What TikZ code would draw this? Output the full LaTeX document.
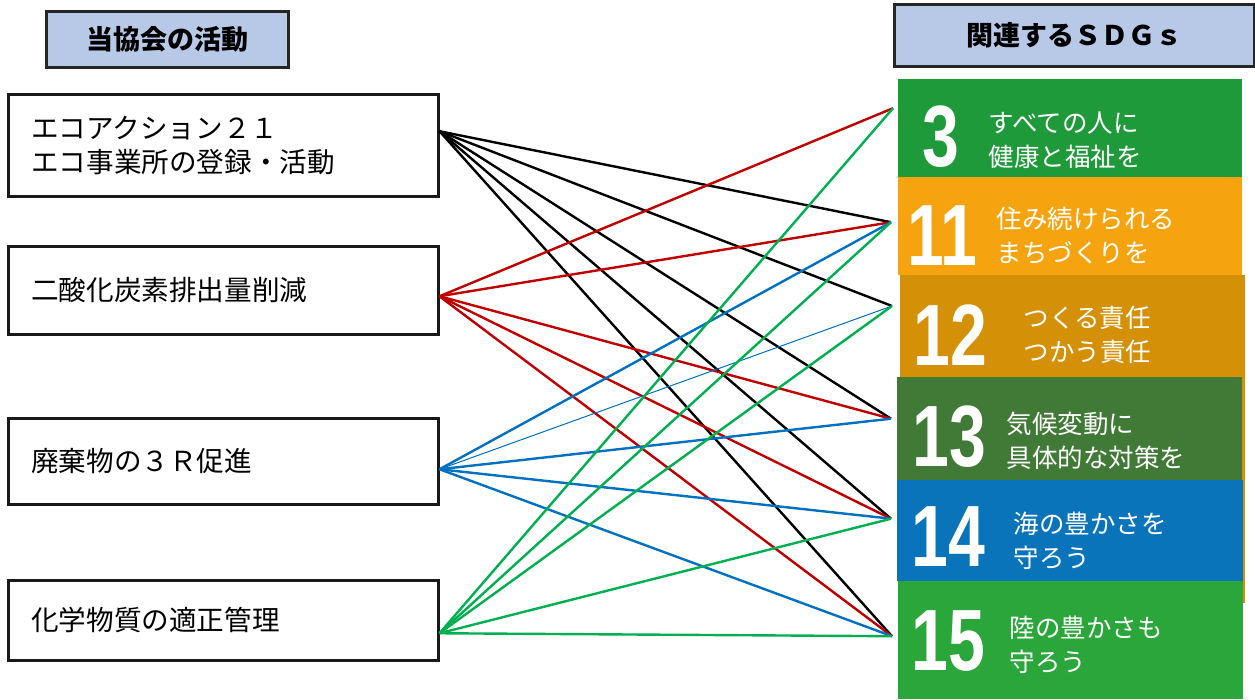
\documentclass[tikz,border=0pt]{standalone}
\usepackage{fontspec}
\setmainfont{Liberation Sans}
\newfontfamily\jp{Noto Sans CJK JP}
\usetikzlibrary{positioning}

\definecolor{hdrblue}{RGB}{184,201,232}
\definecolor{linkred}{RGB}{192,0,0}
\definecolor{linkblue}{RGB}{0,112,192}
\definecolor{linkgreen}{RGB}{0,176,80}
\definecolor{goalthree}{RGB}{31,154,58}
\definecolor{goaleleven}{RGB}{245,164,15}
\definecolor{goaltwelve}{RGB}{212,145,7}
\definecolor{goalthirteen}{RGB}{64,122,54}
\definecolor{goalfourteen}{RGB}{10,116,186}
\definecolor{goalfifteen}{RGB}{43,166,58}

\newcommand{\goalno}[1]{\scalebox{0.76}[1]{#1}}

\tikzset{
  header/.style={draw=black!85, line width=2.5pt, fill=hdrblue, anchor=north west,
    inner sep=0pt, font=\jp\bfseries\fontsize{27}{30}\selectfont},
  actbox/.style={draw=black!90, line width=2.5pt, anchor=north west, inner sep=0pt,
    minimum width=430pt, text width=384pt, align=left,
    font=\jp\fontsize{27.6}{34}\selectfont},
  tile/.style={anchor=north west, inner sep=0pt},
  goalnum/.style={text=white, font=\bfseries\fontsize{87}{87}\selectfont},
  goaltext/.style={text=white, anchor=west, align=left, font=\jp\fontsize{25.5}{34}\selectfont},
  link/.style={line width=2.4pt},
}

\begin{document}
\begin{tikzpicture}[x=1pt, y=-1pt]
  \useasboundingbox (0,0) rectangle (1255,699);

  % headers
  \node[header, minimum width=242pt, minimum height=56pt] (hdrL) at (45,10) {当協会の活動};
  \node[header, minimum width=360pt, minimum height=62pt] (hdrR) at (893,3) {関連するＳＤＧｓ};

  % activities
  \node[actbox, minimum height=102pt] (eco) at (7,93) {エコアクション２１\\エコ事業所の登録・活動};
  \node[actbox, minimum height=88pt] (co2) at (7,245) {二酸化炭素排出量削減};
  \node[actbox, minimum height=86pt] (waste) at (7,417) {廃棄物の３Ｒ促進};
  \node[actbox, minimum height=80pt] (chem) at (7,579) {化学物質の適正管理};

  % SDG tiles
  \node[tile, fill=goaltwelve, minimum width=345pt, minimum height=328pt] (sdg12) at (900,275) {};
  \node[tile, fill=goalthree, minimum width=344pt, minimum height=98pt] (sdg3) at (898,79) {};
  \node[tile, fill=goaleleven, minimum width=344pt, minimum height=98pt] (sdg11) at (898,177) {};
  \node[tile, fill=goalthirteen, minimum width=345pt, minimum height=103pt] (sdg13) at (897,377) {};
  \node[tile, fill=goalfourteen, minimum width=346pt, minimum height=101pt] (sdg14) at (897,480) {};
  \node[tile, fill=goalfifteen, minimum width=345pt, minimum height=118pt] (sdg15) at (898,581) {};

  \node[goalnum] at (941,137) {\goalno{3}};
  \node[goalnum] at (942,236) {\goalno{11}};
  \node[goalnum] at (950,335) {\goalno{12}};
  \node[goalnum] at (949,437) {\goalno{13}};
  \node[goalnum] at (948,537) {\goalno{14}};
  \node[goalnum] at (948,641) {\goalno{15}};

  \node[goaltext] at (985,140) {すべての人に\\健康と福祉を};
  \node[goaltext] at (993,236) {住み続けられる\\まちづくりを};
  \node[goaltext] at (1020,335) {つくる責任\\つかう責任};
  \node[goaltext] at (1003,441) {気候変動に\\具体的な対策を};
  \node[goaltext] at (1010,541) {海の豊かさを\\守ろう};
  \node[goaltext] at (1006,645) {陸の豊かさも\\守ろう};

  % link ends
  \coordinate (ecoOut) at ([yshift=14pt]eco.east);
  \coordinate (co2Out) at ([yshift=-6pt]co2.east);
  \coordinate (wasteOut) at ([yshift=-8pt]waste.east);
  \coordinate (chemOut) at ([yshift=-13pt]chem.east);
  \coordinate (in3) at ([xshift=-5pt, yshift=20pt]sdg3.west);
  \coordinate (in11) at ([xshift=-7pt, yshift=4pt]sdg11.west);
  \coordinate (in12) at ([xshift=-8pt, yshift=-31pt]sdg12.north west);
  \coordinate (in13) at ([xshift=-6pt, yshift=10pt]sdg13.west);
  \coordinate (in14) at ([xshift=-6pt, yshift=12pt]sdg14.west);
  \coordinate (in15) at ([xshift=-6pt, yshift=4pt]sdg15.west);

  % links
  \foreach \g in {11,12,13,14,15}
    \draw[link] (ecoOut) -- (in\g);
  \foreach \g in {3,11,13,14,15}
    \draw[link, linkred] (co2Out) -- (in\g);
  \foreach \g in {11,13,14,15}
    \draw[link, linkblue] (wasteOut) -- (in\g);
  \draw[linkblue, line width=1pt] (wasteOut) -- (in12);
  \foreach \g in {3,11,12,14,15}
    \draw[link, linkgreen] (chemOut) -- (in\g);
\end{tikzpicture}
\end{document}
